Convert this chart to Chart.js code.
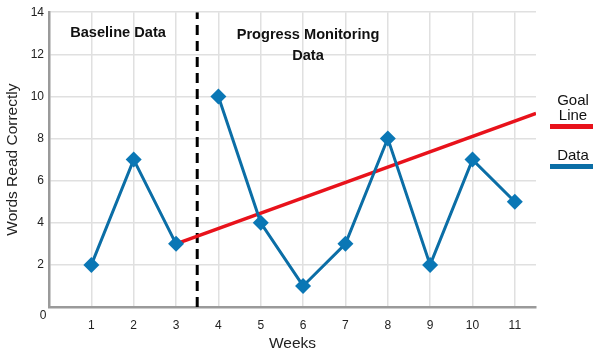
<!DOCTYPE html>
<html>
<head>
<meta charset="utf-8">
<script src="https://cdn.jsdelivr.net/npm/chart.js@4/dist/chart.umd.min.js"></script>
<style>
  html, body { margin: 0; padding: 0; background: #fff; }
  #wrap { width: 600px; height: 355px; position: relative; }
</style>
</head>
<body>
<div id="wrap"><canvas id="c" width="600" height="355"></canvas></div>
<script>
// ---- data ----
const weeks = [1, 2, 3, 4, 5, 6, 7, 8, 9, 10, 11];
const baselineWeeks = [1, 2, 3];
const baselineValues = [2, 7, 3];
const progressWeeks = [4, 5, 6, 7, 8, 9, 10, 11];
const progressValues = [10, 4, 1, 3, 8, 2, 7, 5];
const goalWeeks = [3, 11.5];
const goalValues = [3, 9.2];
const phaseChangeWeek = 3.5;
const yTicks = [0, 2, 4, 6, 8, 10, 12, 14];
const xTicks = [1, 2, 3, 4, 5, 6, 7, 8, 9, 10, 11];

const BLUE_LINE = '#0b6ea6';
const BLUE_MARK = '#0a77b5';
const RED = '#e8121b';
const FONT = '"Liberation Sans", Arial, sans-serif';

const toPts = (xs, ys) => xs.map((x, i) => ({ x: x, y: ys[i] }));

const overlay = {
  id: 'overlay',
  afterDraw(chart) {
    const ctx = chart.ctx;
    const ys = chart.scales.y;
    ctx.save();
    ctx.fillStyle = '#111';
    ctx.textAlign = 'center';
    ctx.textBaseline = 'middle';
    ctx.font = 'bold 14.6px ' + FONT;
    ctx.fillText('Baseline Data', 118, 33);
    ctx.fillText('Progress Monitoring', 308, 35);
    ctx.fillText('Data', 308, 56);
    // zero label
    ctx.font = '12px ' + FONT;
    ctx.fillStyle = '#222';
    ctx.fillText(String(yTicks[0]), 43, ys.getPixelForValue(0) + 9);
    // legend
    ctx.font = '15px ' + FONT;
    ctx.fillStyle = '#111';
    ctx.fillText('Goal', 573, 101);
    ctx.fillText('Line', 573, 116);
    ctx.fillStyle = RED;
    ctx.fillRect(550, 124, 43, 5);
    ctx.fillStyle = '#111';
    ctx.fillText('Data', 573, 156);
    ctx.fillStyle = BLUE_LINE;
    ctx.fillRect(550, 164, 43, 5);
    ctx.restore();
  }
};

new Chart(document.getElementById('c'), {
  type: 'line',
  data: {
    datasets: [
      {
        label: 'Baseline',
        data: toPts(baselineWeeks, baselineValues),
        borderColor: BLUE_LINE, borderWidth: 3,
        pointStyle: 'rectRot', pointRadius: 8, pointHoverRadius: 8,
        pointBackgroundColor: BLUE_MARK, pointBorderColor: BLUE_MARK, pointBorderWidth: 0,
        tension: 0
      },
      {
        label: 'Progress',
        data: toPts(progressWeeks, progressValues),
        borderColor: BLUE_LINE, borderWidth: 3,
        pointStyle: 'rectRot', pointRadius: 8, pointHoverRadius: 8,
        pointBackgroundColor: BLUE_MARK, pointBorderColor: BLUE_MARK, pointBorderWidth: 0,
        tension: 0
      },
      {
        label: 'Goal Line',
        data: toPts(goalWeeks, goalValues),
        borderColor: RED, borderWidth: 3.5, pointRadius: 0, tension: 0
      },
      {
        label: 'Phase change',
        data: [{ x: phaseChangeWeek, y: yTicks[0] }, { x: phaseChangeWeek, y: yTicks[yTicks.length - 1] }],
        borderColor: '#000', borderWidth: 3, borderDash: [10, 6], pointRadius: 0
      }
    ]
  },
  options: {
    responsive: false,
    animation: false,
    events: [],
    layout: { padding: { top: 11, right: 64, left: 0, bottom: 0 } },
    plugins: { legend: { display: false }, tooltip: { enabled: false } },
    scales: {
      x: {
        type: 'linear', min: 0, max: 11.5,
        afterBuildTicks(s) { s.ticks = xTicks.map(v => ({ value: v })); },
        afterFit(s) { s.height = 48; },
        grid: { color: '#e0e0e0', lineWidth: 1.5, drawTicks: false },
        border: { color: '#9a9a9a', width: 2.5 },
        ticks: { padding: 11, color: '#222', font: { family: FONT, size: 12 } },
        title: { display: true, text: 'Weeks', color: '#222', font: { family: FONT, size: 15.5 }, padding: { top: 0, bottom: 2 } }
      },
      y: {
        type: 'linear', min: 0, max: 14,
        afterBuildTicks(s) { s.ticks = yTicks.map(v => ({ value: v })); },
        afterFit(s) { s.width = 49; },
        grid: { color: '#e0e0e0', lineWidth: 1.5, drawTicks: false },
        border: { color: '#9a9a9a', width: 2.5 },
        ticks: { padding: 5, color: '#222', font: { family: FONT, size: 12 },
                 callback: v => (v === 0 ? '' : String(v)) },
        title: { display: true, text: 'Words Read Correctly', color: '#222', font: { family: FONT, size: 15.5 }, padding: { top: 3, bottom: 0 } }
      }
    }
  },
  plugins: [overlay]
});
</script>
</body>
</html>
